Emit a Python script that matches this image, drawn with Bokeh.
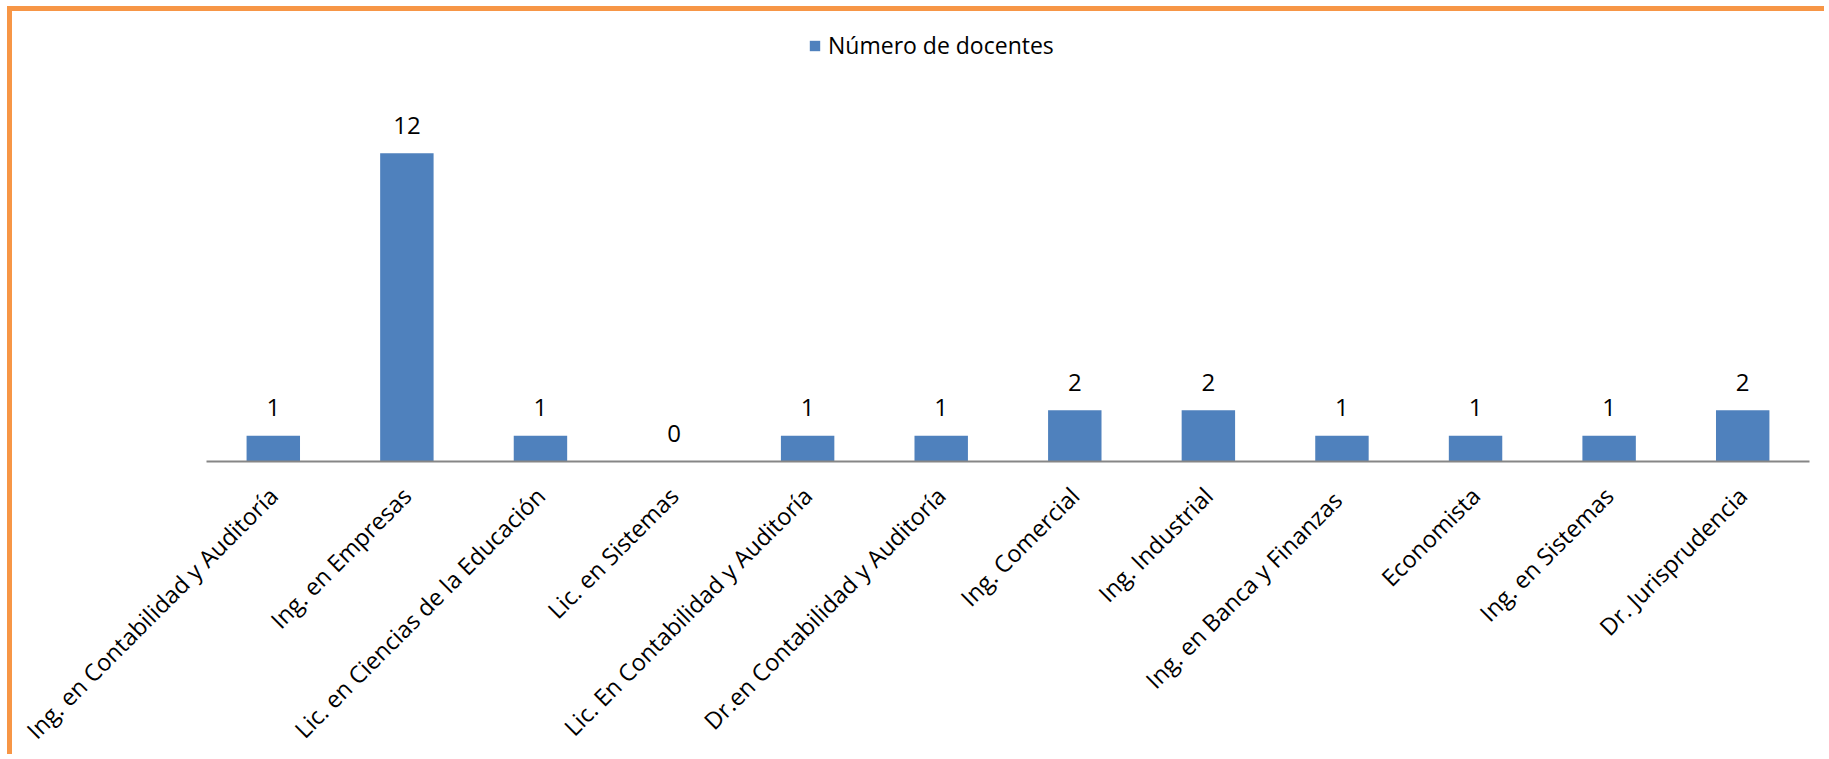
from bokeh.plotting import figure
from bokeh.models import ColumnDataSource, Range1d, FactorRange, Legend, LegendItem
from bokeh.core.properties import value
from bokeh.embed import file_html
from bokeh.resources import INLINE
import math

categories = [
    "Ing. en Contabilidad y Auditoría",
    "Ing. en Empresas",
    "Lic. en Ciencias de la Educación",
    "Lic. en Sistemas",
    "Lic. En Contabilidad y Auditoría",
    "Dr.en Contabilidad y Auditoría",
    "Ing. Comercial",
    "Ing. Industrial",
    "Ing. en Banca  y Finanzas",
    "Economista",
    "Ing. en Sistemas",
    "Dr. Jurisprudencia",
]
docentes = [1, 12, 1, 0, 1, 1, 2, 2, 1, 1, 1, 2]
series_name = "Número de docentes"

FONT = "Open Sans"
BLUE = "#4F81BD"

src = ColumnDataSource(dict(cat=categories, val=docentes, lbl=[str(v) for v in docentes]))

p = figure(
    x_range=FactorRange(factors=categories, range_padding=0),
    y_range=Range1d(0, 17.52),
    width=1817, height=748,
    output_backend="svg", toolbar_location=None,
    min_border_left=194, min_border_right=20, min_border_top=0, min_border_bottom=296,
)
p.styles = {"margin-left": "7px", "margin-top": "6px",
            "border-left": "5px solid #F79646", "border-top": "5px solid #F79646"}
p.outline_line_color = None
p.xgrid.visible = False
p.ygrid.visible = False
p.yaxis.visible = False

bars = p.vbar(x="cat", top="val", width=0.4, source=src, fill_color=BLUE, line_color=None)
p.text(x="cat", y="val", text="lbl", source=src, y_offset=-28,
       text_align="center", text_baseline="alphabetic",
       text_font=value(FONT), text_font_size="24px", text_color="#000000")

xa = p.xaxis[0]
xa.axis_line_color = "#868686"
xa.axis_line_width = 2
xa.major_tick_line_color = None
xa.minor_tick_line_color = None
xa.major_label_orientation = math.pi / 4
xa.major_label_standoff = 24
xa.major_label_text_font = FONT
xa.major_label_text_font_size = "23.5px"
xa.major_label_text_color = "#000000"

legend = Legend(items=[LegendItem(label=series_name, renderers=[bars])],
                location=(602, 400), orientation="horizontal",
                glyph_width=13, glyph_height=13, label_height=24,
                label_standoff=7, padding=0, margin=0, spacing=0,
                border_line_color=None, background_fill_alpha=0,
                label_text_font=FONT, label_text_font_size="23px",
                label_text_color="#000000")
p.add_layout(legend, "center")

open("out.html", "w").write(file_html(p, INLINE))
